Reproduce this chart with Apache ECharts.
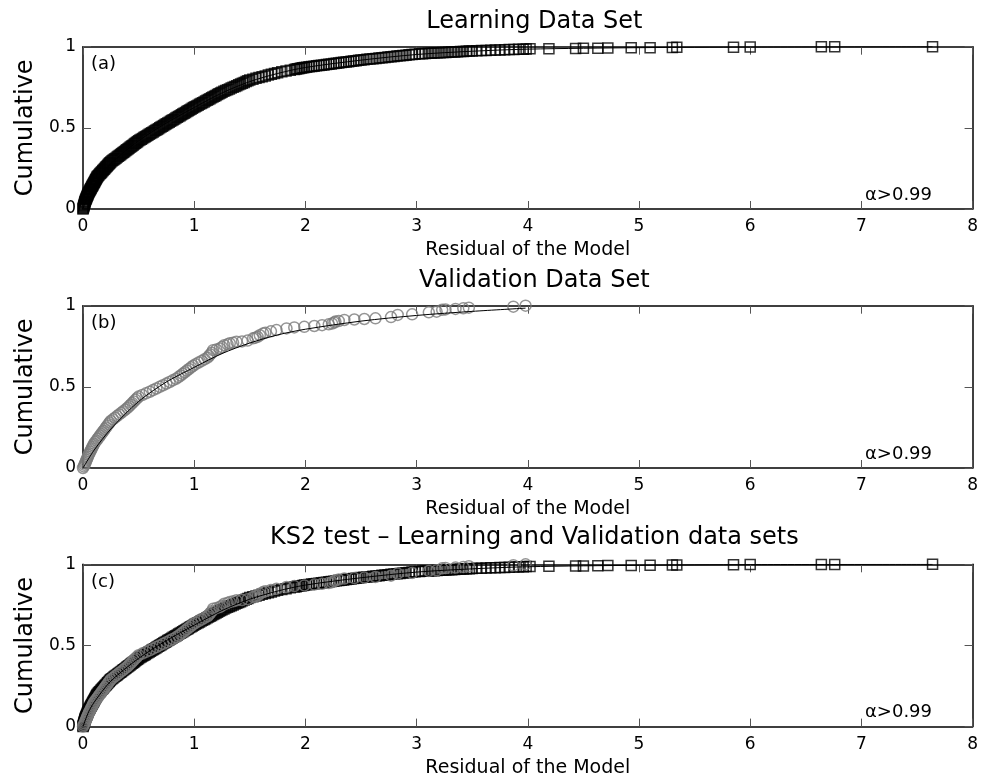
<!DOCTYPE html>
<html>
<head>
<meta charset="utf-8">
<script src="https://cdn.jsdelivr.net/npm/echarts@6/dist/echarts.min.js"></script>
<style>html,body{margin:0;padding:0;background:#fff}#c{width:981px;height:780px}</style>
</head>
<body>
<div id="c"></div>
<script>
// ---------- data ----------
const titles = ['Learning Data Set', 'Validation Data Set', 'KS2 test \u2013 Learning and Validation data sets'];
const panelTags = ['(a)', '(b)', '(c)'];
const alphaText = '\u03b1>0.99';
const xName = 'Residual of the Model';
const yName = 'Cumulative';
const xTickValues = [0, 1, 2, 3, 4, 5, 6, 7, 8];
const yTickValues = [0, 0.5, 1];

// learning set: sorted residuals and their cumulative fraction
const learnX = [
0,.002,.004,.006,.008,.010,.012,.014,.016,.018,.020,.023,.026,.029,.032,.035,.038,.041,.044,.047,
.050,.054,.058,.062,.066,.070,.074,.078,.082,.086,.090,.094,.098,.102,.106,.110,.114,.118,.122,.126,
.130,.137,.143,.150,.157,.163,.170,.177,.183,.190,.197,.203,.210,.217,.223,.230,.237,.243,.250,.260,
.269,.279,.288,.298,.308,.317,.327,.337,.346,.356,.365,.375,.385,.394,.404,.413,.423,.433,.442,.452,
.462,.471,.481,.490,.500,.512,.524,.536,.548,.560,.571,.583,.595,.607,.619,.631,.643,.655,.667,.679,
.690,.702,.714,.726,.738,.750,.762,.775,.787,.799,.811,.824,.836,.848,.860,.873,.885,.897,.909,.922,
.934,.946,.958,.971,.983,.995,1.008,1.021,1.035,1.048,1.062,1.075,1.089,1.102,1.116,1.129,1.142,1.156,1.169,1.183,
1.196,1.210,1.223,1.237,1.250,1.267,1.283,1.300,1.317,1.333,1.350,1.367,1.383,1.400,1.417,1.433,1.450,1.467,1.483,1.500,
1.528,1.556,1.583,1.611,1.639,1.667,1.694,1.722,1.750,1.788,1.826,1.864,1.902,
1.917,1.932,1.947,1.962,1.977,1.992,
2.011,2.033,2.056,2.078,2.100,2.122,2.144,2.167,2.189,2.211,2.233,2.256,2.278,2.300,2.322,2.344,2.367,2.389,2.411,2.433,2.456,2.478,2.500,
2.527,2.554,2.581,2.608,2.635,2.662,2.689,2.716,2.743,2.770,2.797,2.824,2.851,2.878,2.905,2.932,2.959,2.986,
3.026,3.053,3.079,3.105,3.132,3.158,3.184,3.211,3.237,3.263,3.289,3.316,3.342,3.368,3.395,3.421,3.447,3.474,3.500,
3.542,3.583,3.625,3.667,3.708,3.750,3.792,3.833,3.875,3.917,3.958,3.985,
4.02,4.19,4.43,4.50,4.63,4.72,4.93,5.10,5.30,5.34,5.85,6.00,6.64,6.76,7.64
];
const learnY = [
0,.005,.01,.015,.02,.025,.03,.035,.04,.045,.05,.055,.06,.065,.07,.075,.08,.085,.09,.095,
.1,.105,.11,.115,.12,.125,.13,.135,.14,.145,.15,.155,.16,.165,.17,.175,.18,.185,.19,.195,
.2,.205,.21,.215,.22,.225,.23,.235,.24,.245,.25,.255,.26,.265,.27,.275,.28,.285,.29,.295,
.3,.305,.31,.315,.32,.325,.33,.335,.34,.345,.35,.355,.36,.365,.37,.375,.38,.385,.39,.395,
.4,.405,.41,.415,.42,.425,.43,.435,.44,.445,.45,.455,.46,.465,.47,.475,.48,.485,.49,.495,
.5,.505,.51,.515,.52,.525,.53,.535,.54,.545,.55,.555,.56,.565,.57,.575,.58,.585,.59,.595,
.6,.605,.61,.615,.62,.625,.63,.635,.64,.645,.65,.655,.66,.665,.67,.675,.68,.685,.69,.695,
.7,.705,.71,.715,.72,.725,.73,.735,.74,.745,.75,.755,.76,.765,.77,.775,.78,.785,.79,.795,
.8,.805,.81,.815,.82,.825,.83,.835,.84,.845,.85,.855,.86,
.862,.864,.866,.868,.87,.872,
.874,.876,.878,.88,.882,.884,.886,.888,.89,.892,.894,.896,.898,.9,.902,.904,.906,.908,.91,.912,.914,.916,.918,
.92,.922,.924,.926,.928,.93,.932,.934,.936,.938,.94,.942,.944,.946,.948,.95,.952,.954,
.956,.957,.958,.959,.96,.961,.962,.963,.964,.965,.966,.967,.968,.969,.97,.971,.972,.973,.974,
.975,.976,.977,.978,.979,.98,.981,.982,.983,.984,.985,.986,
.987,.988,.989,.99,.991,.992,.993,.994,.995,.996,.997,.998,.999,.9995,1.0
];

// validation set
const validX = [
0,.007,.013,.020,.026,.032,.038,.044,.050,.057,.064,.071,.079,.086,.093,.100,.111,.122,.132,.143,
.154,.165,.175,.186,.197,.207,.218,.229,.239,.250,.269,.288,.306,.325,.344,.363,.381,.400,.414,.429,
.443,.457,.471,.486,.500,.533,.567,.600,.630,.660,.690,.720,.750,.779,.807,.836,.859,.878,.897,.916,
.934,.953,.972,.991,1.013,1.040,1.067,1.093,1.120,1.133,1.145,1.158,
1.17,1.20,1.23,1.25,1.27,1.30,1.32,1.35,1.38,1.43,1.48,1.53,1.55,1.57,1.59,1.62,1.64,1.69,1.74,1.83,
1.90,1.99,2.08,2.15,2.21,2.24,2.26,2.27,2.30,2.35,2.44,2.53,2.63,2.77,2.83,2.96,3.11,3.18,3.23,3.26,
3.35,3.42,3.47,3.87,3.98
];
const validY = [
0,.01,.02,.03,.04,.05,.06,.07,.08,.09,.10,.11,.12,.13,.14,.15,.16,.17,.18,.19,
.20,.21,.22,.23,.24,.25,.26,.27,.28,.29,.30,.31,.32,.33,.34,.35,.36,.37,.38,.39,
.40,.41,.42,.43,.44,.45,.46,.47,.48,.49,.50,.51,.52,.53,.54,.55,.56,.57,.58,.59,
.60,.61,.62,.63,.64,.65,.66,.67,.68,.69,.70,.71,
.726,.73,.737,.745,.757,.762,.768,.772,.778,.78,.785,.799,.803,.808,.818,.829,.834,.842,.85,.86,
.866,.87,.875,.88,.885,.89,.896,.902,.906,.912,.915,.918,.922,.93,.943,.947,.959,.963,.975,.977,
.98,.984,.988,.994,1.0
];

// fitted cumulative curves
const fitLearnX = [0,0.05,0.1,0.25,0.5,0.75,1,1.25,1.5,1.75,2,2.5,3,3.5,4,5,6,7.64];
const fitLearnY = [0,0.09,0.15,0.28,0.42,0.53,0.625,0.715,0.785,0.835,0.872,0.917,0.952,0.972,0.985,0.994,0.998,1.0];
const fitValidX = [0,0.1,0.25,0.5,0.75,1,1.25,1.5,1.75,2,2.5,3,3.5,3.98];
const fitValidY = [0,0.11,0.24,0.41,0.53,0.62,0.705,0.77,0.82,0.855,0.905,0.94,0.965,0.985];

// ---------- chart ----------
const F = 'DejaVu Sans';
const LEFT = 83, RIGHT = 5.3, H = 162.3;
const tops = [46.7, 305.7, 564.3];
const zip = (xs, ys) => xs.map((x, i) => [x, ys[i]]);

const grid = tops.map(t => ({ left: LEFT, right: RIGHT, top: t, height: H }));
const line = { color: '#000', width: 1.5 };
const tick = { inside: true, length: 8, lineStyle: { color: '#555', width: 1 } };
const xAxis = [], yAxis = [];
tops.forEach((t, i) => {
  xAxis.push({
    gridIndex: i, type: 'value', min: xTickValues[0], max: xTickValues[xTickValues.length - 1], interval: 1,
    position: 'bottom', axisLine: { onZero: false, lineStyle: line }, axisTick: tick,
    axisLabel: { color: '#000', fontFamily: F, fontSize: 17, margin: 9 }, splitLine: { show: false },
    name: xName, nameLocation: 'middle', nameGap: 32,
    nameTextStyle: { color: '#000', fontFamily: F, fontSize: 19 }
  });
  xAxis.push({
    gridIndex: i, type: 'value', min: 0, max: 8, interval: 1, position: 'top',
    axisLine: { onZero: false, lineStyle: line }, axisTick: tick,
    axisLabel: { show: false }, splitLine: { show: false }
  });
  yAxis.push({
    gridIndex: i, type: 'value', min: yTickValues[0], max: yTickValues[2], interval: 0.5, position: 'left',
    axisLine: { onZero: false, lineStyle: line }, axisTick: tick,
    axisLabel: { color: '#000', fontFamily: F, fontSize: 17, margin: 7 }, splitLine: { show: false },
    name: yName, nameLocation: 'middle', nameGap: 45,
    nameTextStyle: { color: '#000', fontFamily: F, fontSize: 24 }
  });
  yAxis.push({
    gridIndex: i, type: 'value', min: 0, max: 1, interval: 0.5, position: 'right',
    axisLine: { onZero: false, lineStyle: line }, axisTick: tick,
    axisLabel: { show: false }, splitLine: { show: false }
  });
});

const sq = (gi, data) => ({
  type: 'scatter', xAxisIndex: 2 * gi, yAxisIndex: 2 * gi, data, symbol: 'rect', symbolSize: 10,
  itemStyle: { color: 'rgba(0,0,0,0)', borderColor: '#000', borderWidth: 1.5 }, silent: true,
  emphasis: { disabled: true }
});
const ci = (gi, data) => ({
  type: 'scatter', xAxisIndex: 2 * gi, yAxisIndex: 2 * gi, data, symbol: 'circle', symbolSize: 11,
  itemStyle: { color: 'rgba(0,0,0,0)', borderColor: '#7a7a7a', borderWidth: 1.5 }, silent: true,
  emphasis: { disabled: true }
});
const fit = (gi, data) => ({
  type: 'line', xAxisIndex: 2 * gi, yAxisIndex: 2 * gi, data, showSymbol: false, smooth: 0.3,
  lineStyle: { color: '#000', width: 1 }, silent: true, z: 5
});

const learn = zip(learnX, learnY);
const valid = zip(validX, validY);
const fitL = zip(fitLearnX, fitLearnY);
const fitV = zip(fitValidX, fitValidY);

const series = [
  sq(0, learn), fit(0, fitL),
  ci(1, valid), fit(1, fitV),
  sq(2, learn), ci(2, valid), fit(2, fitL)
];

const titleTops = [5, 264, 521];
const title = titles.map((t, i) => ({
  text: t, left: LEFT + (981 - LEFT - RIGHT) / 2, top: titleTops[i], textAlign: 'center',
  textStyle: { color: '#000', fontFamily: F, fontSize: 24, fontWeight: 'normal' }
}));

const graphic = [];
tops.forEach((t, i) => {
  graphic.push({ type: 'text', x: 91, y: t + 18, style: { text: panelTags[i], fill: '#000', font: '18px "DejaVu Sans"', textVerticalAlign: 'middle' } });
  graphic.push({ type: 'text', x: 865, y: t + 148.5, style: { text: alphaText, fill: '#000', font: '18px "DejaVu Sans"', textVerticalAlign: 'middle' } });
});

const chart = echarts.init(document.getElementById('c'), null, { renderer: 'canvas' });
chart.setOption({ animation: false, backgroundColor: '#fff', title, grid, xAxis, yAxis, series, graphic });
</script>
</body>
</html>
